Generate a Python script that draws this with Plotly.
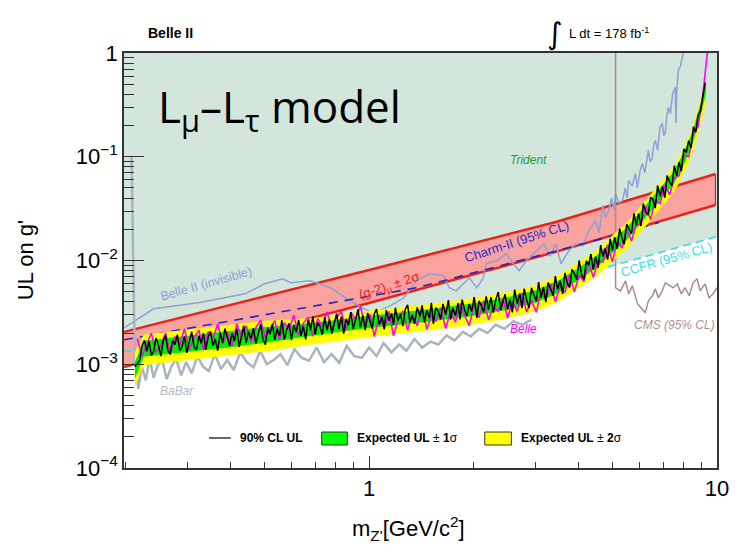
import plotly.graph_objects as go

# ---------------- data (g' values in units of 1e-3) ----------------
mass = [0.212, 0.2155, 0.219, 0.2225, 0.226, 0.2295, 0.233, 0.2365, 0.240, 0.244,
        0.248, 0.252, 0.256, 0.260, 0.264, 0.268, 0.272, 0.2765, 0.281, 0.2855,
        0.290, 0.2945, 0.299, 0.304, 0.309, 0.314, 0.319, 0.324, 0.329, 0.334,
        0.339, 0.3445, 0.350, 0.3555, 0.361, 0.367, 0.373, 0.379, 0.385, 0.391,
        0.397, 0.4035, 0.410, 0.4165, 0.423, 0.4295, 0.436, 0.443, 0.450, 0.4575,
        0.465, 0.4725, 0.480, 0.4875, 0.495, 0.503, 0.511, 0.519, 0.527, 0.5355,
        0.544, 0.5525, 0.561, 0.570, 0.579, 0.5885, 0.598, 0.6075, 0.617, 0.627,
        0.637, 0.647, 0.657, 0.6675, 0.678, 0.689, 0.700, 0.711, 0.722, 0.7335,
        0.745, 0.757, 0.769, 0.7815, 0.794, 0.8065, 0.819, 0.832, 0.845, 0.8585,
        0.872, 0.886, 0.900, 0.9145, 0.929, 0.944, 0.959, 0.9745, 0.990, 1.005,
        1.02, 1.035, 1.05, 1.07, 1.09, 1.105, 1.12, 1.14, 1.16, 1.175,
        1.19, 1.21, 1.23, 1.25, 1.27, 1.29, 1.31, 1.33, 1.35, 1.375,
        1.40, 1.42, 1.44, 1.465, 1.49, 1.51, 1.53, 1.555, 1.58, 1.605,
        1.63, 1.66, 1.69, 1.715, 1.74, 1.77, 1.80, 1.825, 1.85, 1.88,
        1.91, 1.94, 1.97, 2.005, 2.04, 2.07, 2.10, 2.135, 2.17, 2.205,
        2.24, 2.275, 2.31, 2.35, 2.39, 2.425,
        2.46, 2.50, 2.54, 2.58, 2.62, 2.665, 2.71, 2.75, 2.79, 2.835,
        2.88, 2.93, 2.98, 3.025, 3.07, 3.12, 3.17, 3.22, 3.27, 3.325,
        3.38, 3.43, 3.48, 3.54, 3.60, 3.655, 3.71, 3.77, 3.83, 3.89,
        3.95, 4.015, 4.08, 4.145, 4.21, 4.275, 4.34, 4.41, 4.48, 4.555,
        4.63, 4.70, 4.77, 4.85, 4.93, 5.005, 5.08, 5.165, 5.25, 5.33,
        5.41, 5.50, 5.59, 5.68, 5.77, 5.86, 5.95, 6.045, 6.14, 6.24,
        6.34, 6.44, 6.54, 6.645, 6.75, 6.86, 6.97, 7.08, 7.19, 7.305,
        7.42, 7.54, 7.66, 7.78, 7.90, 8.03, 8.16, 8.29, 8.42, 8.555,
        8.69, 8.825, 8.96, 9.105, 9.25]

obs_ul_e3 = [0.95, 1.01, 1.10, 1.52, 1.70, 1.33, 1.66, 1.22, 1.32, 1.79,
             1.52, 1.20, 1.69, 1.89, 1.34, 1.26, 1.69, 1.55, 1.93, 1.35,
             1.48, 1.86, 1.29, 1.70, 2.05, 1.46, 1.38, 1.87, 1.59, 1.99,
             1.38, 1.82, 2.08, 1.50, 1.75, 1.35, 2.01, 1.61, 2.20, 1.83,
             1.50, 2.00, 1.67, 2.20, 1.47, 1.84, 2.35, 1.61, 2.06, 1.78,
             2.23, 1.58, 2.00, 2.43, 1.76, 1.54, 2.25, 1.95, 2.45, 1.72,
             2.19, 1.88, 2.67, 1.73, 2.13, 2.48, 1.71, 2.39, 2.03, 2.68,
             1.88, 2.33, 1.74, 2.67, 2.13, 2.89, 1.93, 2.53, 2.32, 1.92,
             2.85, 2.13, 2.71, 1.96, 2.52, 3.07, 2.18, 2.88, 1.97, 2.73,
             2.38, 3.18, 2.18, 2.65, 3.38, 2.27, 2.95, 2.13, 3.13, 2.62,
             2.21, 3.07, 3.40, 2.41, 2.86, 2.17, 3.32, 2.63, 3.09, 2.38,
             3.50, 2.63, 3.05, 2.33, 3.37, 3.74, 2.54, 2.96, 2.45, 3.53,
             2.90, 3.69, 2.54, 3.31, 2.79, 3.90, 2.45, 3.51, 3.21, 2.71,
             3.82, 3.00, 4.15, 2.70, 3.49, 2.93, 3.88, 2.71, 4.20, 3.36,
             2.91, 3.82, 3.23, 4.44, 2.80, 4.09, 3.70, 3.16, 4.50, 3.37,
             4.44, 3.14, 4.15, 4.95, 3.31, 4.05,
             4.72, 3.37, 4.21, 3.16, 5.25, 3.81, 4.82, 3.47, 5.34, 4.19,
             3.50, 5.44, 4.64, 4.00, 6.19, 4.38, 5.58, 3.97, 6.15, 5.33,
             4.58, 7.06, 5.28, 6.39, 4.75, 7.61, 6.10, 5.48, 8.22, 7.48,
             6.51, 10.0, 7.34, 6.53, 9.93, 9.07, 11.5, 8.13, 10.9, 8.53,
             14.1, 10.9, 13.1, 10.2, 16.2, 12.5, 16.8, 12.9, 20.3, 16.6,
             14.3, 22.3, 20.3, 18.1, 28.5, 21.8, 28.3, 21.5, 35.3, 29.2,
             27.5, 40.7, 39.0, 32.0, 52.6, 41.5, 51.7, 40.3, 65.9, 56.9,
             52.7, 82.1, 65.6, 88.9, 72.5, 119, 110, 143, 122, 194,
             172, 253, 275, 389, 518]

belle_mass = [0.2155, 0.2225, 0.2295, 0.2365, 0.244, 0.252, 0.260, 0.268, 0.2765, 0.2855,
              0.2945, 0.304, 0.314, 0.324, 0.334, 0.3445, 0.3555, 0.367, 0.379, 0.391,
              0.4035, 0.4165, 0.4295, 0.443, 0.4575, 0.4725, 0.4875, 0.503, 0.519, 0.5355,
              0.5525, 0.570, 0.5885, 0.6075, 0.627, 0.647, 0.6675, 0.689, 0.711, 0.7335,
              0.757, 0.7815, 0.8065, 0.832, 0.8585, 0.886, 0.9145, 0.944, 0.9745, 1.005,
              1.035, 1.07, 1.105, 1.14, 1.175, 1.21, 1.25, 1.29, 1.33, 1.375,
              1.42, 1.465, 1.51, 1.555, 1.605, 1.66, 1.715, 1.77, 1.825, 1.88,
              1.94, 2.005, 2.07, 2.135, 2.205, 2.275, 2.35, 2.425, 2.50, 2.58,
              2.665, 2.75, 2.835, 2.93, 3.025, 3.12, 3.22, 3.325, 3.43, 3.54,
              3.655, 3.77, 3.89, 4.015, 4.145, 4.275, 4.41, 4.555, 4.70, 4.85,
              5.005, 5.165, 5.33, 5.50, 5.68, 5.86, 6.045, 6.24, 6.44, 6.645,
              6.86, 7.08, 7.305, 7.54, 7.78, 8.03, 8.29, 8.555, 8.825, 9.105,
              9.38]
belle_ul_e3 = [1.77, 1.19, 1.57, 1.99, 1.30, 1.53, 2.00, 1.23, 1.85, 1.54,
               2.20, 1.38, 1.83, 2.13, 1.37, 2.06, 1.75, 2.45, 1.57, 2.04,
               1.49, 2.45, 1.84, 2.34, 1.63, 2.25, 2.66, 1.81, 2.15, 2.63,
               1.72, 2.52, 2.17, 2.97, 1.91, 2.48, 2.84, 1.86, 2.75, 2.33,
               3.20, 2.17, 2.83, 3.22, 2.13, 3.18, 2.70, 3.61, 2.34, 3.04,
               1.85, 2.95, 2.22, 3.23, 1.88, 2.66, 3.27, 2.13, 3.05, 2.35,
               3.57, 2.17, 2.98, 2.58, 3.48, 2.21, 3.27, 2.54, 3.84, 2.95,
               2.35, 3.75, 2.82, 4.10, 2.68, 3.59, 3.24, 4.36, 2.78, 4.05,
               3.23, 4.86, 3.20, 4.10, 3.16, 5.16, 4.17, 5.97, 4.00, 5.69,
               4.91, 7.26, 4.98, 7.23, 6.29, 9.60, 6.88, 9.98, 9.66, 14.2,
               9.73, 15.3, 13.2, 20.1, 15.4, 22.3, 22.1, 33.4, 24.8, 38.2,
               35.3, 53.4, 43.1, 62.4, 65.5, 104, 99.8, 167, 196, 396,
               1000]

exp_mass = [0.212, 0.225, 0.25, 0.3, 0.4, 0.5, 0.7, 1.0, 1.5, 2.0, 2.5, 3.0, 3.5,
            4.0, 4.5, 5.0, 5.5, 6.0, 6.5, 7.0, 7.5, 8.0, 8.5, 9.0, 9.3]
exp_lo2_e3 = [0.60, 0.98, 1.02, 1.09, 1.22, 1.33, 1.57, 1.83, 2.13, 2.42, 2.78, 3.22, 4.00,
              5.33, 7.00, 9.73, 13.0, 18.3, 25.1, 33.6, 44.8, 67.2, 109, 214, 336]
exp_lo1_e3 = [0.72, 1.18, 1.23, 1.31, 1.46, 1.60, 1.90, 2.23, 2.58, 2.94, 3.37, 3.91, 4.86,
              6.48, 8.50, 11.8, 15.8, 22.2, 30.5, 40.8, 54.4, 81.6, 132, 259, 408]
exp_hi1_e3 = [1.05, 1.68, 1.75, 1.87, 2.09, 2.28, 2.51, 2.93, 3.40, 3.88, 4.45, 5.15, 6.41,
              8.53, 11.2, 15.6, 20.8, 29.2, 40.2, 53.8, 71.7, 108, 174, 342, 538]
exp_hi2_e3 = [1.30, 1.93, 2.01, 2.15, 2.40, 2.62, 2.80, 3.28, 3.80, 4.33, 4.96, 5.75, 7.15,
              9.53, 12.5, 17.4, 23.3, 32.6, 44.9, 60.0, 80.0, 120, 194, 381, 600]

babar_mass = [0.2075, 0.212, 0.217, 0.222, 0.228, 0.234, 0.240, 0.247, 0.254, 0.262,
              0.270, 0.279, 0.288, 0.298, 0.309, 0.321, 0.333, 0.346, 0.360, 0.375,
              0.391, 0.408, 0.426, 0.445, 0.465, 0.486, 0.508, 0.531, 0.556, 0.582,
              0.610, 0.640, 0.672, 0.706, 0.742, 0.780, 0.820, 0.862, 0.906, 0.952,
              1.00, 1.05, 1.10, 1.16, 1.22, 1.28, 1.35, 1.42, 1.50, 1.58,
              1.67, 1.76, 1.86, 1.96, 2.07, 2.19, 2.31, 2.45, 2.60, 2.76,
              2.93]
babar_e3 = [100, 1.2, 0.58, 0.95, 0.70, 1.15, 0.74, 0.98, 1.1, 0.72,
            0.95, 1.12, 0.78, 1.05, 0.82, 1.2, 0.95, 0.86, 1.25, 0.90,
            1.1, 0.88, 1.3, 1.05, 0.93, 1.35, 1.0, 1.1, 1.25, 0.98,
            1.4, 1.15, 1.08, 1.45, 1.05, 1.25, 1.03, 1.5, 1.2, 1.15,
            1.45, 1.2, 1.6, 1.3, 1.55, 1.35, 1.75, 1.45, 1.65, 1.55,
            1.9, 1.7, 2.05, 1.85, 2.2, 2.0, 2.4, 2.2, 2.6, 2.4,
            2.7]

b2inv_mass = [0.1974, 0.240, 0.323, 0.44, 0.501, 0.564, 0.595, 0.678, 0.774, 0.883,
              0.968, 1.03, 1.10, 1.148, 1.259, 1.371, 1.494, 1.64, 1.70, 1.78,
              1.94, 2.04, 2.13, 2.17, 2.32, 2.48, 2.60, 2.70, 2.83, 2.96,
              3.08, 3.18, 3.31, 3.44, 3.56, 3.75, 3.93, 4.11, 4.28, 4.48,
              4.58, 4.69, 4.78, 4.88, 4.98, 5.05, 5.11, 5.22, 5.35, 5.45,
              5.52, 5.57, 5.70, 5.83, 5.90, 6.02, 6.10, 6.20, 6.35, 6.42,
              6.50, 6.58, 6.65, 6.75, 6.85, 6.96, 7.03, 7.10, 7.18, 7.25,
              7.35, 7.45, 7.59, 7.62, 7.66, 7.74, 7.85, 8.0]
b2inv_e3 = [2.24, 3.42, 3.91, 4.77, 5.96, 6.66, 6.10, 6.37, 5.46, 4.09,
            3.42, 3.13, 3.42, 3.65, 4.37, 6.37, 7.45, 7.13, 5.46, 5.10,
            6.81, 5.46, 6.81, 9.30, 9.95, 11.6, 9.30, 7.96, 9.95, 11.6,
            13.3, 14.5, 11.1, 14.5, 9.30, 12.4, 14.5, 13.8, 19.4, 24.2,
            18.5, 33.8, 26.0, 30.5, 40.0, 31.0, 44.2, 36.0, 37.9, 50.0,
            40.0, 59.0, 52.0, 69.0, 50.0, 75.0, 86.0, 70.0, 115, 90.0,
            95.0, 130, 144, 115, 190, 210, 160, 170, 250, 299,
            260, 400, 467, 210, 420, 681, 750, 1000]

cms_mass = [5.11, 5.11, 5.28, 5.46, 5.57, 5.71, 5.91, 6.10, 6.22, 6.35, 6.52, 6.65,
            6.78, 6.96, 7.10, 7.34, 7.48, 7.69, 7.89, 8.10, 8.32, 8.54, 8.77, 8.94,
            9.24, 9.49, 9.74, 10.0]
cms_e3 = [1000, 5.46, 5.10, 6.37, 4.77, 5.70, 3.82, 3.42, 3.13, 4.09, 4.57, 5.33,
          4.37, 5.10, 6.10, 5.70, 5.46, 5.96, 4.77, 5.46, 4.57, 6.10, 6.66, 5.10,
          5.96, 4.37, 4.77, 5.46]

ccfr_mass = [0.1974, 0.25, 0.3, 0.4, 0.5, 0.7, 1.0, 1.5, 2.0, 2.5, 3.0, 3.5, 4.0, 4.5,
             4.88, 6.0, 7.0, 8.0, 9.0, 10.0]
ccfr_e3 = [1.34, 1.36, 1.40, 1.50, 1.62, 1.85, 2.15, 2.75, 3.35, 4.0, 4.75, 5.6, 6.6, 7.7,
           8.7, 10.5, 12.2, 13.8, 15.4, 17.0]

charm_mass = [0.1974, 1.0, 1.371, 4.25, 6.8]
charm_e3 = [1.72, 4.47, 5.46, 14.85, 23.2]

gm2_mass = [0.1974, 1.0, 3.44, 9.9]
gm2_lo_e3 = [0.94, 3.9, 12.1, 34.3]
gm2_hi_e3 = [2.05, 8.1, 23.5, 68.2]

x_major = [1, 10]
y_major = [1e-4, 1e-3, 1e-2, 1e-1, 1]
y_major_text = ["10<sup>\u22124</sup>", "10<sup>\u22123</sup>", "10<sup>\u22122</sup>",
                "10<sup>\u22121</sup>", "1"]

assert len(mass) == len(obs_ul_e3), (len(mass), len(obs_ul_e3))
assert len(belle_mass) == len(belle_ul_e3)
assert len(babar_mass) == len(babar_e3)
assert len(b2inv_mass) == len(b2inv_e3)
assert len(cms_mass) == len(cms_e3)


def sc(v):
    return [a * 1e-3 for a in v]


# ---------------- geometry ----------------
W, H = 741, 546
ML, MR, MT, MB = 124, 17, 53, 78
PW, PH = W - ML - MR, H - MT - MB


def px(x):
    return (x - ML) / PW


def py(y):
    return (H - MB - y) / PH


GREEN_BG = "#d3e6dc"
fig = go.Figure()

# Trident (CCFR) excluded region: fill above CCFR curve
fig.add_trace(go.Scatter(x=ccfr_mass, y=[10.0] * len(ccfr_mass), mode="lines",
                         line=dict(width=0), hoverinfo="skip"))
fig.add_trace(go.Scatter(x=ccfr_mass, y=sc(ccfr_e3), mode="lines", line=dict(width=0),
                         fill="tonexty", fillcolor=GREEN_BG, hoverinfo="skip"))

# (g-2) band
fig.add_trace(go.Scatter(x=gm2_mass + gm2_mass[::-1], y=sc(gm2_lo_e3) + sc(gm2_hi_e3)[::-1],
                         mode="lines", line=dict(width=0), fill="toself",
                         fillcolor="#f9a29e"))
fig.add_trace(go.Scatter(x=gm2_mass, y=sc(gm2_hi_e3), mode="lines",
                         line=dict(color="#e8231c", width=2.5)))
fig.add_trace(go.Scatter(x=gm2_mass, y=sc(gm2_lo_e3), mode="lines",
                         line=dict(color="#e8231c", width=2.5)))
fig.add_trace(go.Scatter(x=[gm2_mass[-1], gm2_mass[-1]], y=[gm2_lo_e3[-1] * 1e-3, gm2_hi_e3[-1] * 1e-3],
                         mode="lines", line=dict(color="#555555", width=1.2)))

# Belle II invisible
fig.add_trace(go.Scatter(x=b2inv_mass, y=sc(b2inv_e3), mode="lines",
                         line=dict(color="#8ca2d6", width=1.5)))
# Charm-II
fig.add_trace(go.Scatter(x=charm_mass, y=sc(charm_e3), mode="lines",
                         line=dict(color="#2424c8", width=1.6, dash="9px,7px")))
# CCFR line
fig.add_trace(go.Scatter(x=ccfr_mass, y=sc(ccfr_e3), mode="lines",
                         line=dict(color="#38dce8", width=1.6, dash="8px,5px")))
# CMS
fig.add_trace(go.Scatter(x=cms_mass, y=sc(cms_e3), mode="lines",
                         line=dict(color="#aa8c8c", width=1.5)))
# BaBar
fig.add_trace(go.Scatter(x=babar_mass, y=sc(babar_e3), mode="lines",
                         line=dict(color="#a9b4bf", width=2.5)))

# Expected bands
fig.add_trace(go.Scatter(x=exp_mass, y=sc(exp_lo2_e3), mode="lines", line=dict(width=0)))
fig.add_trace(go.Scatter(x=exp_mass, y=sc(exp_hi2_e3), mode="lines", line=dict(width=0),
                         fill="tonexty", fillcolor="#ffff00"))
fig.add_trace(go.Scatter(x=exp_mass, y=sc(exp_lo1_e3), mode="lines", line=dict(width=0)))
fig.add_trace(go.Scatter(x=exp_mass, y=sc(exp_hi1_e3), mode="lines", line=dict(width=0),
                         fill="tonexty", fillcolor="#00ee00"))

# Belle
fig.add_trace(go.Scatter(x=belle_mass, y=sc(belle_ul_e3), mode="lines",
                         line=dict(color="#ff00ff", width=1.6)))
# Observed
fig.add_trace(go.Scatter(x=mass, y=sc(obs_ul_e3), mode="lines",
                         line=dict(color="#000000", width=1.5)))

FONT = "Liberation Sans, Arial, sans-serif"

fig.update_layout(
    width=W, height=H, margin=dict(l=ML, r=MR, t=MT, b=MB, pad=0),
    paper_bgcolor="white", plot_bgcolor="white", showlegend=False,
    font=dict(family=FONT, color="black", size=12),
    xaxis=dict(type="log", range=[-0.7047, 1.0], showgrid=False, zeroline=False,
               showline=True, linecolor="#333333", linewidth=1.5, mirror=True,
               ticks="inside", ticklen=12, tickwidth=1.2, tickcolor="#333333",
               tickmode="array", tickvals=x_major, ticktext=["1", "10"],
               tickfont=dict(size=22, family=FONT),
               minor=dict(ticks="inside", ticklen=6, tickwidth=1.2, tickcolor="#333333",
                          tickmode="array",
                          tickvals=[0.2, 0.3, 0.4, 0.5, 0.6, 0.7, 0.8, 0.9,
                                    2, 3, 4, 5, 6, 7, 8, 9], showgrid=False)),
    yaxis=dict(type="log", range=[-4, 0], showgrid=False, zeroline=False,
               showline=True, linecolor="#333333", linewidth=1.5, mirror=True,
               ticks="inside", ticklen=20, tickwidth=1.2, tickcolor="#333333",
               tickmode="array", tickvals=y_major, ticktext=y_major_text,
               tickfont=dict(size=22, family=FONT),
               minor=dict(ticks="inside", ticklen=10, tickwidth=1.2, tickcolor="#333333",
                          tickmode="array",
                          tickvals=[k * 10.0 ** e for e in (-4, -3, -2, -1) for k in range(2, 10)],
                          showgrid=False)),
)

ann = []


def text(x, y, s, size=12, color="black", family=FONT, angle=0, xanchor="center",
         yanchor="middle"):
    ann.append(dict(x=px(x), y=py(y), xref="paper", yref="paper", text=s, showarrow=False,
                    font=dict(size=size, color=color, family=family), textangle=angle,
                    xanchor=xanchor, yanchor=yanchor))


# axis titles
text(24, 260, "UL on g'", size=22, angle=-90)
text(412, 528, "m<sub>Z'</sub>[GeV/c<sup>2</sup>]", size=22)
# header
text(146, 33, "<b>Belle II</b>", size=14, xanchor="left")
text(560, 33, "\u222b", size=30, family="DejaVu Sans")
text(572, 33, "L dt = 178 fb<sup>-1</sup>", size=13, xanchor="left")
# model label
text(156, 108, "L<sub>\u03bc</sub>\u2013L<sub>\u03c4</sub> model", size=44,
     family="Open Sans", xanchor="left")
# curve labels
text(533, 160, "<i>Trident</i>", size=12, color="#2a9a3a")
text(521, 241, "Charm-II (95% CL)", size=13, color="#2a2ad0", angle=-18)
text(392, 286, "(g-2)<sub>\u03bc</sub> \u00b1 2\u03c3", size=13, color="#e02020", angle=-18)
text(207, 284, "Belle II (invisible)", size=12.5, color="#8ca2d6", angle=-16)
text(178, 391, "<i>BaBar</i>", size=12, color="#b2bdc8")
text(528, 329, "<i>Belle</i>", size=12, color="#ff00ff")
text(673, 259, "CCFR (95% CL)", size=13, color="#38dce8", angle=-16)
text(681, 325, "<i>CMS (95% CL)</i>", size=12, color="#b09090")

# legend
LY = 438
shapes = [
    dict(type="line", xref="paper", yref="paper", x0=px(210), x1=px(232), y0=py(LY), y1=py(LY),
         line=dict(color="#333333", width=1.5)),
    dict(type="rect", xref="paper", yref="paper", x0=px(324), x1=px(350), y0=py(445), y1=py(432),
         fillcolor="#00ff00", line=dict(color="#333333", width=1)),
    dict(type="rect", xref="paper", yref="paper", x0=px(489), x1=px(516), y0=py(445), y1=py(432),
         fillcolor="#ffff00", line=dict(color="#333333", width=1)),
]
text(239, LY, "<b>90% CL UL</b>", size=12, xanchor="left")
text(358, LY, "<b>Expected UL</b> \u00b1 <b>1</b>\u03c3", size=12, xanchor="left")
text(524, LY, "<b>Expected UL</b> \u00b1 <b>2</b>\u03c3", size=12, xanchor="left")

fig.update_layout(annotations=ann, shapes=shapes)
fig.write_html("out.html")
